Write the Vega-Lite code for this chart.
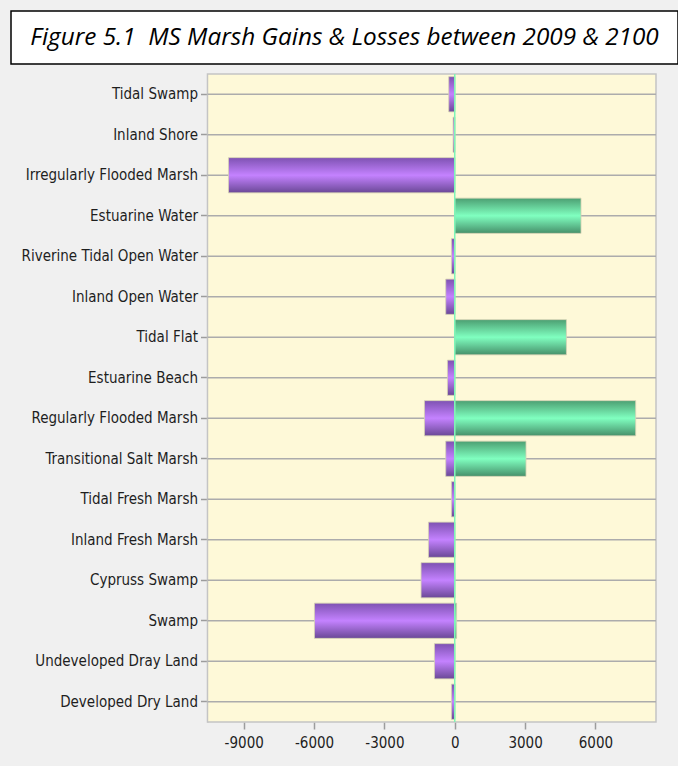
{
  "$schema": "https://vega.github.io/schema/vega-lite/v6.json",
  "background": "#f0f0f0",
  "padding": {"left": 10, "top": 10, "right": 0, "bottom": 16},
  "spacing": 8,
  "config": {
    "font": "DejaVu Sans Condensed, Liberation Sans",
    "axis": {"title": null}
  },
  "datasets": {
    "habitats": [
      {"habitat": "Tidal Swamp", "loss": -256, "gain": 0},
      {"habitat": "Inland Shore", "loss": -70, "gain": 0},
      {"habitat": "Irregularly Flooded Marsh", "loss": -9650, "gain": 0},
      {"habitat": "Estuarine Water", "loss": 0, "gain": 5386},
      {"habitat": "Riverine Tidal Open Water", "loss": -140, "gain": 0},
      {"habitat": "Inland Open Water", "loss": -384, "gain": 0},
      {"habitat": "Tidal Flat", "loss": 0, "gain": 4763},
      {"habitat": "Estuarine Beach", "loss": -311, "gain": 0},
      {"habitat": "Regularly Flooded Marsh", "loss": -1292, "gain": 7718},
      {"habitat": "Transitional Salt Marsh", "loss": -384, "gain": 3040},
      {"habitat": "Tidal Fresh Marsh", "loss": -140, "gain": 0},
      {"habitat": "Inland Fresh Marsh", "loss": -1121, "gain": 0},
      {"habitat": "Cypruss Swamp", "loss": -1437, "gain": 0},
      {"habitat": "Swamp", "loss": -5983, "gain": 80},
      {"habitat": "Undeveloped Dray Land", "loss": -866, "gain": 0},
      {"habitat": "Developed Dry Land", "loss": -140, "gain": 0}
    ],
    "plotRange": [{"lo": -10546, "hi": 8584, "zero": 0}]
  },
  "vconcat": [
    {
      "width": 667,
      "height": 53,
      "view": {"fill": "#ffffff", "stroke": "#000000", "strokeWidth": 1.5},
      "data": {"values": [{"caption": "Figure 5.1\u00a0 MS Marsh Gains & Losses between 2009 & 2100"}]},
      "mark": {
        "type": "text",
        "font": "Open Sans",
        "fontStyle": "italic",
        "fontSize": 24.3,
        "color": "#000000",
        "align": "center",
        "baseline": "middle"
      },
      "encoding": {"text": {"field": "caption"}}
    },
    {
      "width": 645,
      "height": 648,
      "view": {"stroke": null},
      "resolve": {"scale": {"x": "shared", "y": "shared"}},
      "layer": [
        {
          "data": {"name": "plotRange"},
          "mark": {"type": "rect", "fill": "#fef9d8", "stroke": "#c4c4c4", "strokeWidth": 1.5},
          "encoding": {
            "x": {
              "field": "lo",
              "type": "quantitative",
              "scale": {"domain": [-18926, 8584], "nice": false, "zero": false},
              "axis": {
                "values": [-9000, -6000, -3000, 0, 3000, 6000],
                "labelExpr": "datum.value < 0 ? '-' + abs(datum.value) : '' + datum.value",
                "labelFontSize": 15,
                "labelColor": "#1e1e1e",
                "labelPadding": 6,
                "tickSize": 7,
                "tickColor": "#9c9c9c",
                "tickWidth": 1.5,
                "domain": false,
                "grid": false
              }
            },
            "x2": {"field": "hi"}
          }
        },
        {
          "data": {"name": "habitats"},
          "mark": {"type": "rule", "color": "#acacac", "strokeWidth": 1.5},
          "encoding": {
            "y": {
              "field": "habitat",
              "type": "nominal",
              "sort": null,
              "scale": {"paddingInner": 0.13, "paddingOuter": 0.065},
              "axis": {
                "offset": -196.5,
                "labelFontSize": 15,
                "labelColor": "#1e1e1e",
                "labelLimit": 0,
                "labelPadding": 3,
                "tickSize": 7,
                "tickColor": "#9c9c9c",
                "tickWidth": 1.5,
                "domainColor": "#bdbdbd",
                "domainWidth": 1.5,
                "minExtent": 0,
                "maxExtent": 0,
                "grid": false
              }
            },
            "x": {"datum": -10546},
            "x2": {"datum": 8584}
          }
        },
        {
          "data": {"name": "habitats"},
          "mark": {
            "type": "bar",
            "stroke": "#d6d2b4",
            "strokeWidth": 0.8,
            "color": {
              "gradient": "linear",
              "x1": 0, "y1": 0, "x2": 0, "y2": 1,
              "stops": [
                {"offset": 0, "color": "#7e52b2"},
                {"offset": 0.5, "color": "#c482ff"},
                {"offset": 1, "color": "#6a4896"}
              ]
            }
          },
          "encoding": {
            "y": {"field": "habitat", "type": "nominal", "sort": null},
            "x": {"field": "loss", "type": "quantitative"}
          }
        },
        {
          "data": {"name": "habitats"},
          "mark": {
            "type": "bar",
            "stroke": "#d6d2b4",
            "strokeWidth": 0.8,
            "color": {
              "gradient": "linear",
              "x1": 0, "y1": 0, "x2": 0, "y2": 1,
              "stops": [
                {"offset": 0, "color": "#4c9f72"},
                {"offset": 0.5, "color": "#80ffc0"},
                {"offset": 1, "color": "#46906a"}
              ]
            }
          },
          "encoding": {
            "y": {"field": "habitat", "type": "nominal", "sort": null},
            "x": {"field": "gain", "type": "quantitative"}
          }
        },
        {
          "data": {"name": "plotRange"},
          "mark": {"type": "rule", "color": "#7df5b8", "strokeWidth": 1.5},
          "encoding": {"x": {"field": "zero", "type": "quantitative"}}
        }
      ]
    }
  ]
}
